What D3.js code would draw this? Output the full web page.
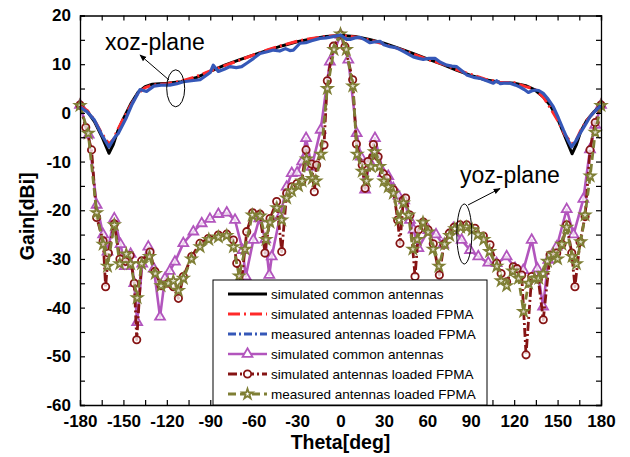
<!DOCTYPE html>
<html><head><meta charset="utf-8">
<script src="https://cdn.jsdelivr.net/npm/d3@7"></script>
<style>body{margin:0;background:#fff}svg{display:block}</style>
</head><body>
<svg id="c" width="630" height="457"></svg>
<script>
// ---------- data: [theta (deg), gain (dBi)] ----------
const xozSimCommon = [[-180,1.5],[-175,0.3],[-170,-1.8],[-165,-4.8],[-160,-8.3],[-157,-6.5],[-154,-3.8],[-150,-1.2],[-145,1.8],[-140,4.2],[-135,5.4],[-130,5.9],[-120,6.1],[-110,6.4],[-100,7.2],[-90,8.5],[-80,9.8],[-70,10.9],[-60,11.9],[-50,12.9],[-40,13.8],[-30,14.6],[-20,15.2],[-10,15.7],[0,15.9],[10,15.7],[20,15.1],[30,14.3],[40,13.3],[50,12.2],[60,11.1],[70,10.0],[80,8.8],[90,7.7],[100,6.8],[110,6.3],[120,6.1],[128,5.6],[134,4.8],[140,3.3],[145,1.5],[150,-1.2],[155,-4.8],[160,-8.4],[163,-6.5],[166,-3.8],[170,-1.6],[175,0.2],[180,1.5]];
const xozSimLoaded = [[-180,1.4],[-175,0.5],[-170,-1.5],[-165,-4.2],[-160,-6.4],[-157,-5.5],[-154,-3.5],[-150,-1.2],[-145,1.5],[-140,4.0],[-135,5.2],[-130,5.7],[-120,6.0],[-110,6.5],[-100,7.4],[-90,8.6],[-80,9.7],[-70,10.8],[-60,11.9],[-50,13.0],[-40,13.9],[-30,14.7],[-20,15.3],[-10,15.7],[0,15.9],[10,15.6],[20,15.0],[30,14.1],[40,13.2],[50,12.1],[60,11.0],[70,10.1],[80,8.9],[90,7.9],[100,6.9],[110,6.3],[120,6.2],[128,5.4],[134,4.9],[140,3.3],[145,1.0],[150,-1.5],[155,-4.5],[160,-6.3],[163,-5.5],[166,-3.6],[170,-1.6],[175,0.1],[180,1.5]];
const xozMeasLoaded = [[-180,1.2],[-175,0.2],[-170,-1.5],[-165,-4.5],[-160,-7],[-156,-5],[-153.5,-4.2],[-148,-1],[-144,1.8],[-138.5,4.8],[-134,4.4],[-129,5.5],[-124,5.7],[-118,5.7],[-113,6.0],[-108.6,6.4],[-103,6.6],[-97,6.8],[-90,8.3],[-87.9,9.8],[-84.4,8.5],[-80,9.0],[-76.4,9.5],[-72,9.3],[-68.3,9.5],[-64.8,10.2],[-60,11.2],[-55.6,12.2],[-50,12.6],[-46.4,12.9],[-42,12.7],[-38,13.2],[-35,12.8],[-32.6,12.9],[-28,14.3],[-24,14.4],[-20,14.8],[-14.2,15.3],[-10,15.4],[-6.1,15.6],[0,16],[4.3,15.1],[6.6,15.1],[10,15.4],[13.5,15.5],[17,15.0],[20.4,14.4],[24,14.6],[27.3,14.7],[30,14.0],[34.2,13.6],[38,13.4],[41.1,13.0],[45,12.4],[50.3,11.5],[54,11.2],[57.2,11.0],[61,11.2],[65.3,11.2],[69,10.4],[73.4,9.8],[77,9.6],[80.3,9.5],[84,8.6],[87.2,7.8],[92,7.3],[96.4,7.1],[101,6.6],[105.6,6.1],[107.9,6.6],[110.5,6.0],[113,6.1],[117.1,6.1],[121,5.7],[124,5.3],[127,4.8],[129.8,4.2],[132,4.5],[134.4,4.7],[137,4.6],[140.1,4.0],[143,3.0],[147,1.3],[150.5,-1],[154,-3.5],[157,-5.5],[159.7,-7],[162.5,-5.8],[165.5,-4.2],[169,-2.5],[172.4,-0.8],[176,0.4],[180,1.5]];

const yozSimCommon = [[-180,1.6],[-174,-4.5],[-168.5,-18.9],[-164,-25],[-161,-28.5],[-156.3,-21.7],[-152,-27],[-149,-31.5],[-145,-29],[-142.5,-35],[-140.5,-43],[-137,-31],[-132.8,-27.5],[-129,-32],[-124.7,-41.9],[-121.3,-34],[-118,-32.5],[-114.4,-30.6],[-108.6,-26.8],[-101.7,-24.4],[-95.9,-22.7],[-90.2,-21.8],[-84.4,-20.8],[-78.6,-20.5],[-72.9,-22],[-67.6,-28.2],[-65.5,-33.6],[-60.2,-26.1],[-56.1,-21.7],[-52,-26],[-49.2,-33.3],[-47.5,-29.5],[-41.8,-21.3],[-37.2,-15.2],[-33.7,-12.4],[-30,-12.3],[-26.5,-10],[-23.8,-5.2],[-19.9,-11.1],[-13.7,-3.5],[-7.3,10.5],[0,16],[5.4,10.9],[11.2,-4.2],[14,-9],[17,-15.8],[20,-10],[23.8,-5.2],[29.6,-12.4],[33,-13],[36.5,-15.5],[40,-17],[44,-18],[48,-22],[50.5,-24],[53.8,-27.8],[60.7,-24.1],[66,-25],[71,-27.1],[78,-23.7],[83.7,-26.1],[89.5,-28.2],[95.2,-29.5],[102.1,-30.8],[107.9,-30.9],[114.8,-29.5],[120.6,-31.9],[126.3,-32.3],[132.1,-26.1],[136,-32],[140,-39.8],[143.6,-30.2],[149.4,-27.5],[156.3,-19.8],[161,-25],[167.8,-17.7],[172.4,-7.5],[176,-2.5],[180,1.6]];
const yozSimLoaded = [[-180,1.6],[-176,-3],[-172,-7.6],[-168.5,-21.5],[-164,-26.3],[-162.3,-35.7],[-160.4,-28.8],[-156.3,-22.8],[-152.4,-30],[-148.5,-30.5],[-145.4,-29.3],[-142.5,-35],[-140.8,-46.6],[-137.4,-30.4],[-131.6,-28.6],[-128.2,-32.6],[-124,-35.5],[-119,-35],[-115.5,-35.7],[-112,-38.1],[-108.6,-33.6],[-102.8,-29.5],[-97.1,-26.8],[-91.3,-25.8],[-84.4,-25.1],[-78.6,-24.9],[-74,-26.1],[-71.7,-30.9],[-68.5,-35],[-64.8,-24.4],[-60.7,-20.5],[-55.6,-20.8],[-52.2,-28.8],[-48.7,-21.7],[-44.1,-18.2],[-40.6,-28.5],[-37.2,-16.5],[-33.7,-15.2],[-30,-14.5],[-26.8,-14.1],[-23.8,-7.6],[-20,-10.5],[-18.1,-16.2],[-16.5,-10.7],[-11.4,-6.6],[-9.1,6.6],[-4.9,13.7],[0,16],[3.1,13.6],[8.4,6.8],[11,-6.4],[15,-10.7],[17,-15.5],[19,-10],[22.7,-6.5],[26,-9],[29.6,-12.5],[32,-13.4],[36.5,-15.8],[39.5,-22],[41.1,-26.8],[43.4,-17.9],[45,-17.5],[48,-21],[51.5,-33.6],[54,-24],[57.2,-22.4],[60.5,-24],[64.1,-26.9],[68.3,-33.3],[71.5,-27],[75.2,-24.7],[78.5,-23.5],[82.6,-23],[87.2,-23],[92.9,-23.7],[98.7,-25.3],[103.3,-27.1],[107.9,-30.9],[111,-33],[114.8,-34.7],[119.4,-31.6],[122,-32],[125.2,-33.3],[128.2,-49.7],[132.1,-33.6],[136.7,-34.2],[140.1,-42.5],[144.8,-29.2],[149.4,-28.8],[153,-27],[156.3,-23],[159.8,-28.8],[162,-35.7],[165.5,-26.5],[169,-21.3],[172.4,-7.6],[176,-2],[180,1.6]];
const yozMeasLoaded = [[-180,1.5],[-174.3,-4.2],[-168.5,-20.5],[-164,-27],[-161,-31.5],[-156.3,-23],[-152.5,-31],[-148,-29],[-145,-31],[-140.5,-38],[-137.4,-31],[-132,-29.5],[-128,-33],[-124,-35.5],[-119,-35],[-115.5,-34.5],[-112,-36.5],[-108.6,-34],[-103,-30],[-97,-27.5],[-91,-26],[-84.4,-25.5],[-78.6,-25.2],[-74,-27.5],[-70,-33.5],[-66,-28],[-61,-21],[-55.6,-21.2],[-51.5,-26],[-48.7,-22.5],[-44,-19.5],[-40.6,-22],[-37.2,-17.5],[-33.7,-16],[-29,-15],[-26.5,-14],[-23.5,-9.5],[-19.5,-13.5],[-17,-14],[-13.5,-8.5],[-9.1,5],[-4.5,13],[0,16.2],[4,13],[8.5,5.5],[11.5,-8.5],[15,-12],[18,-14],[21,-11],[23.5,-8],[27,-11],[30,-14],[33,-15.2],[36.5,-16.5],[40.5,-22],[43.5,-18.5],[47,-21],[50,-28],[53,-26],[57,-22.5],[60.5,-24.5],[64,-28],[68,-31.5],[72,-27],[75.5,-25.2],[79,-23.8],[83,-23.5],[87,-23.5],[91,-24],[95,-25],[99,-26],[103,-28.5],[108,-31.5],[111,-34.5],[114.8,-35.5],[119,-32.5],[123,-34],[126.5,-40.8],[130,-35],[134,-34],[137,-34],[140,-33],[143,-30.5],[147,-29],[150,-30],[153,-27],[156.3,-23.5],[160,-29.5],[163,-31],[166,-26.5],[169,-21],[172.5,-13],[176,-4],[180,1.5]];

const xTickValues = d3.range(-180, 181, 15);
const yTickValues = d3.range(-60, 21, 5);
const legendLabels = ["simulated common antennas","simulated antennas loaded FPMA","measured antennas loaded FPMA","simulated common antennas","simulated antennas loaded FPMA","measured antennas loaded FPMA"];
const xTitle = "Theta[deg]", yTitle = "Gain[dBi]";
const noteXoz = "xoz-plane", noteYoz = "yoz-plane";

// ---------- drawing ----------
const svg = d3.select("#c");
const L = 80, R = 601, T = 15.5, B = 405;
const x = d3.scaleLinear().domain([-180, 180]).range([L, R]);
const y = d3.scaleLinear().domain([-60, 20]).range([B, T]);
const FONT = "Arial, 'Liberation Sans', sans-serif";

const series = [
  {data: yozSimCommon, color: "#b255bd", width: 2.6, dash: null, marker: d3.symbolTriangle, msize: 42},
  {data: yozSimLoaded, color: "#861414", width: 2.8, dash: "9,3,2,3", marker: d3.symbolCircle, msize: 42},
  {data: yozMeasLoaded, color: "#7f7f35", width: 2.8, dash: "8,4", marker: d3.symbolStar, msize: 32},
  {data: xozSimCommon, color: "#000000", width: 3, dash: null},
  {data: xozSimLoaded, color: "#ff2a2a", width: 3, dash: "12,4,2,4"},
  {data: xozMeasLoaded, color: "#3558b8", width: 3.2, dash: null}
];
const line = d3.line().x(d => x(d[0])).y(d => y(d[1]));

series.forEach(s => {
  svg.append("path").attr("d", line(s.data)).attr("fill", "none")
    .attr("stroke", s.color).attr("stroke-width", s.width)
    .attr("stroke-linejoin", "round")
    .attr("stroke-dasharray", s.dash);
  if (s.marker) {
    svg.append("g").selectAll("path").data(s.data).join("path")
      .attr("d", d3.symbol().type(s.marker).size(s.msize))
      .attr("transform", d => `translate(${x(d[0])},${y(d[1])})`)
      .attr("fill", "#fff").attr("fill-opacity", 0.75)
      .attr("stroke", s.color).attr("stroke-width", 1.8);
  }
});

// axes
const fmtX = d => d % 30 === 0 ? d : "";
const fmtY = d => d % 10 === 0 ? d : "";
const gB = svg.append("g").attr("transform", `translate(0,${B})`)
  .call(d3.axisBottom(x).tickValues(xTickValues).tickSize(-5).tickPadding(10).tickFormat(fmtX));
const gT = svg.append("g").attr("transform", `translate(0,${T})`)
  .call(d3.axisTop(x).tickValues(xTickValues).tickSize(-5).tickFormat(""));
const gL = svg.append("g").attr("transform", `translate(${L},0)`)
  .call(d3.axisLeft(y).tickValues(yTickValues).tickSize(-5).tickPadding(9).tickFormat(fmtY));
const gR = svg.append("g").attr("transform", `translate(${R},0)`)
  .call(d3.axisRight(y).tickValues(yTickValues).tickSize(-5).tickFormat(""));
[gB, gT, gL, gR].forEach(g => {
  g.select(".domain").attr("stroke", "#000").attr("stroke-width", 1.3);
  g.selectAll(".tick line").attr("stroke", "#000").attr("stroke-width", 1.2);
  g.selectAll("text").attr("font-family", FONT).attr("font-weight", "bold")
    .attr("font-size", 17).attr("fill", "#000");
});
gB.selectAll("text").attr("dy", "0.71em").attr("y", 10);

svg.append("text").attr("x", (L + R) / 2).attr("y", 449).attr("text-anchor", "middle")
  .attr("font-family", FONT).attr("font-weight", "bold").attr("font-size", 19.5).text(xTitle);
svg.append("text").attr("transform", `translate(34,${(T + B) / 2 + 6}) rotate(-90)`)
  .attr("text-anchor", "middle").attr("font-family", FONT).attr("font-weight", "bold")
  .attr("font-size", 19.5).text(yTitle);

// annotations
const defs = svg.append("defs");
defs.append("marker").attr("id", "ah").attr("viewBox", "0 0 10 10").attr("refX", 9).attr("refY", 5)
  .attr("markerWidth", 7).attr("markerHeight", 7).attr("orient", "auto")
  .append("path").attr("d", "M0,1 L10,5 L0,9 Z").attr("fill", "#000");
svg.append("ellipse").attr("cx", 175.7).attr("cy", 88.3).attr("rx", 9).attr("ry", 18.5)
  .attr("fill", "none").attr("stroke", "#000").attr("stroke-width", 1);
svg.append("line").attr("x1", 169).attr("y1", 80).attr("x2", 140).attr("y2", 55)
  .attr("stroke", "#000").attr("stroke-width", 1).attr("marker-end", "url(#ah)");
svg.append("text").attr("x", 105).attr("y", 50).attr("font-family", FONT).attr("font-size", 23).text(noteXoz);
svg.append("ellipse").attr("cx", 464.3).attr("cy", 234).attr("rx", 7.5).attr("ry", 30)
  .attr("fill", "none").attr("stroke", "#000").attr("stroke-width", 1);
svg.append("line").attr("x1", 468).attr("y1", 205).attr("x2", 500).attr("y2", 188.5)
  .attr("stroke", "#000").attr("stroke-width", 1).attr("marker-end", "url(#ah)");
svg.append("text").attr("x", 460).attr("y", 182.7).attr("font-family", FONT).attr("font-size", 23).text(noteYoz);

// legend
const lg = svg.append("g");
lg.append("rect").attr("x", 213).attr("y", 280).attr("width", 274).attr("height", B - 280)
  .attr("fill", "#fff").attr("stroke", "#000").attr("stroke-width", 1);
const legOrder = [3, 4, 5, 0, 1, 2];
legOrder.forEach((si, i) => {
  const s = series[si];
  const cy = 294 + i * 20;
  lg.append("line").attr("x1", 228).attr("x2", 267).attr("y1", cy).attr("y2", cy)
    .attr("stroke", s.color).attr("stroke-width", s.width)
    .attr("stroke-dasharray", s.dash || (si === 5 ? "8,3,2,3" : null));
  if (s.marker) {
    lg.append("path").attr("d", d3.symbol().type(s.marker).size(s.msize))
      .attr("transform", `translate(247.5,${cy})`).attr("fill", "#fff")
      .attr("stroke", s.color).attr("stroke-width", 1.8);
  }
  lg.append("text").attr("x", 271).attr("y", cy + 4.8).attr("font-family", FONT)
    .attr("font-size", 13.5).attr("fill", "#000").text(legendLabels[i]);
});
</script>
</body></html>
